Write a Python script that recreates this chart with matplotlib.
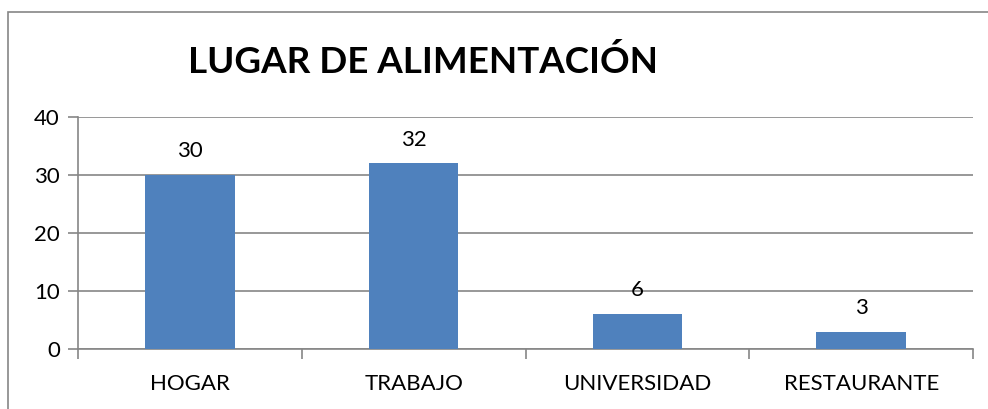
import matplotlib.pyplot as plt
from matplotlib.patches import Rectangle

# Datos del grafico
lugares = ['HOGAR', 'TRABAJO', 'UNIVERSIDAD', 'RESTAURANTE']
cantidades = [30, 32, 6, 3]
ticks_y = [0, 10, 20, 30, 40]

plt.rcParams['font.family'] = ['Lato', 'DejaVu Sans']
gris = '#868686'
azul = '#4F81BD'

fig = plt.figure(figsize=(9.88, 4.09), dpi=100)
W, H = 988, 409

# Borde del area del grafico
fig.patches.append(Rectangle((8 / W, -0.01), 1, 1 - 12 / H + 0.01, transform=fig.transFigure,
                             fill=False, edgecolor=gris, linewidth=1.2))

ax = fig.add_axes([78 / W, 1 - 349 / H, (973 - 78) / W, (349 - 117) / H])
x = list(range(len(lugares)))
ax.bar(x, cantidades, width=0.4, color=azul, zorder=3)
ax.set_xlim(-0.5, len(lugares) - 0.5)
ax.set_ylim(0, 40)
ax.set_yticks(ticks_y)
ax.yaxis.grid(True, color=gris, linewidth=1.2, zorder=0)

for s in ['top', 'right']:
    ax.spines[s].set_visible(False)
for s in ['left', 'bottom']:
    ax.spines[s].set_color(gris)
    ax.spines[s].set_linewidth(1.2)

ax.set_xticks(x)
ax.set_xticklabels(lugares, fontsize=16)
ax.set_xticks([i - 0.5 for i in range(len(lugares) + 1)], minor=True)
ax.tick_params(axis='x', which='major', length=0, pad=18)
ax.tick_params(axis='x', which='minor', length=7, color=gris, width=1.2)
ax.tick_params(axis='y', length=7, color=gris, width=1.2, labelsize=16, pad=6)

for xi, v in zip(x, cantidades):
    ax.annotate(str(v), (xi, v), xytext=(0, 10), textcoords='offset points',
                ha='center', va='bottom', fontsize=16)

fig.text(423 / W, 1 - 62 / H, 'LUGAR DE ALIMENTACIÓN', ha='center', va='center',
         fontsize=26.5, fontweight='bold')

fig.savefig('out.png', dpi=100)
